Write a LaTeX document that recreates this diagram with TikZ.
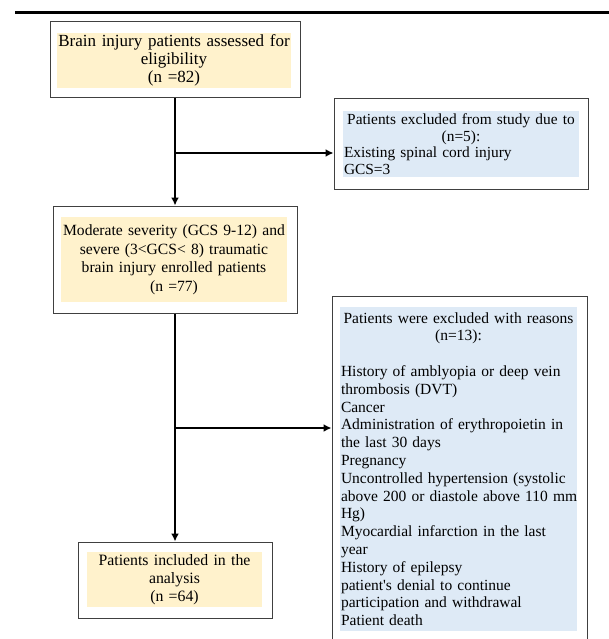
\documentclass[tikz,border=0pt]{standalone}
\usepackage{fontspec}
\setmainfont{Liberation Serif}
\usetikzlibrary{arrows.meta}

\definecolor{boxyellow}{HTML}{FFF2CC}
\definecolor{boxblue}{HTML}{DEEAF6}
\definecolor{framegray}{HTML}{404040}

\newcommand{\midline}[1]{\makebox[\linewidth]{#1}}

\begin{document}
\begin{tikzpicture}[
    x=1pt, y=-1pt,
    frame/.style={draw=framegray, line width=1pt, inner sep=0pt},
    yellowtext/.style={fill=boxyellow, inner sep=0pt, align=center},
    bluetext/.style={fill=boxblue, inner sep=1pt, align=left},
    flow/.style={line width=2pt, -{Latex[length=8pt,width=8pt]}}
  ]
  \useasboundingbox (0,0) rectangle (609,639);
  \clip (0,0) rectangle (609,639);
  \draw[line width=2.5pt] (15,12.5) -- (609,12.5);

  % outer frames
  \node [frame, minimum width=250pt, minimum height=76pt] (assess) at (175,60) {};
  \node [frame, minimum width=254pt, minimum height=90pt] (excluded) at (461,144) {};
  \node [frame, minimum width=244pt, minimum height=107pt] (enrolled) at (175,259.5) {};
  \node [frame, minimum width=255pt, minimum height=354pt] (reasons) at (459.5,473) {};
  \node [frame, minimum width=194pt, minimum height=76pt] (included) at (175,580) {};

  % shaded texts
  \node [yellowtext, text width=234pt, minimum height=55pt,
    font=\fontsize{17}{18}\selectfont] (assess-t) at (174,60.5)
    {Brain injury patients assessed for\\ eligibility\\ (n =82)};
  \node [bluetext, text width=234pt, minimum height=66pt,
    font=\fontsize{15.4}{16.6}\selectfont] (excluded-t) at (461,144)
    {\midline{Patients excluded from study due to}\\ \midline{(n=5):}\\
     Existing spinal cord injury\\ GCS=3};
  \node [yellowtext, text width=226pt, minimum height=85pt,
    font=\fontsize{15.6}{18.5}\selectfont] (enrolled-t) at (174,259.5)
    {Moderate severity (GCS 9-12) and\\ severe (3<GCS< 8) traumatic\\
     brain injury enrolled patients\\ (n =77)};
  \node [bluetext, text width=235pt, minimum height=324pt,
    font=\fontsize{15.5}{17.8}\selectfont] (reasons-t) at (458.5,469)
    {\midline{Patients were excluded with reasons}\\ \midline{(n=13):}\\ \mbox{}\\
     History of amblyopia or deep vein\\ thrombosis (DVT)\\ Cancer\\
     Administration of erythropoietin in\\ the last 30 days\\ Pregnancy\\
     Uncontrolled hypertension (systolic\\ \mbox{above 200 or diastole above 110 mm}\\ Hg)\\
     Myocardial infarction in the last\\ year\\ History of epilepsy\\
     patient\textquotesingle s denial to continue\\ participation and withdrawal\\ Patient death};
  \node [yellowtext, text width=175pt, minimum height=55pt,
    font=\fontsize{15.8}{18}\selectfont] (included-t) at (174.5,579.5)
    {Patients included in the\\ analysis\\ (n =64)};

  % flow
  \coordinate (split1) at (175,153);
  \coordinate (split2) at (175,428);
  \draw[flow] (assess) -- (enrolled);
  \draw[flow] (split1) -- (split1 -| excluded.west);
  \draw[flow] (enrolled) -- (included);
  \draw[flow] (split2) -- (split2 -| reasons.west);
\end{tikzpicture}
\end{document}
